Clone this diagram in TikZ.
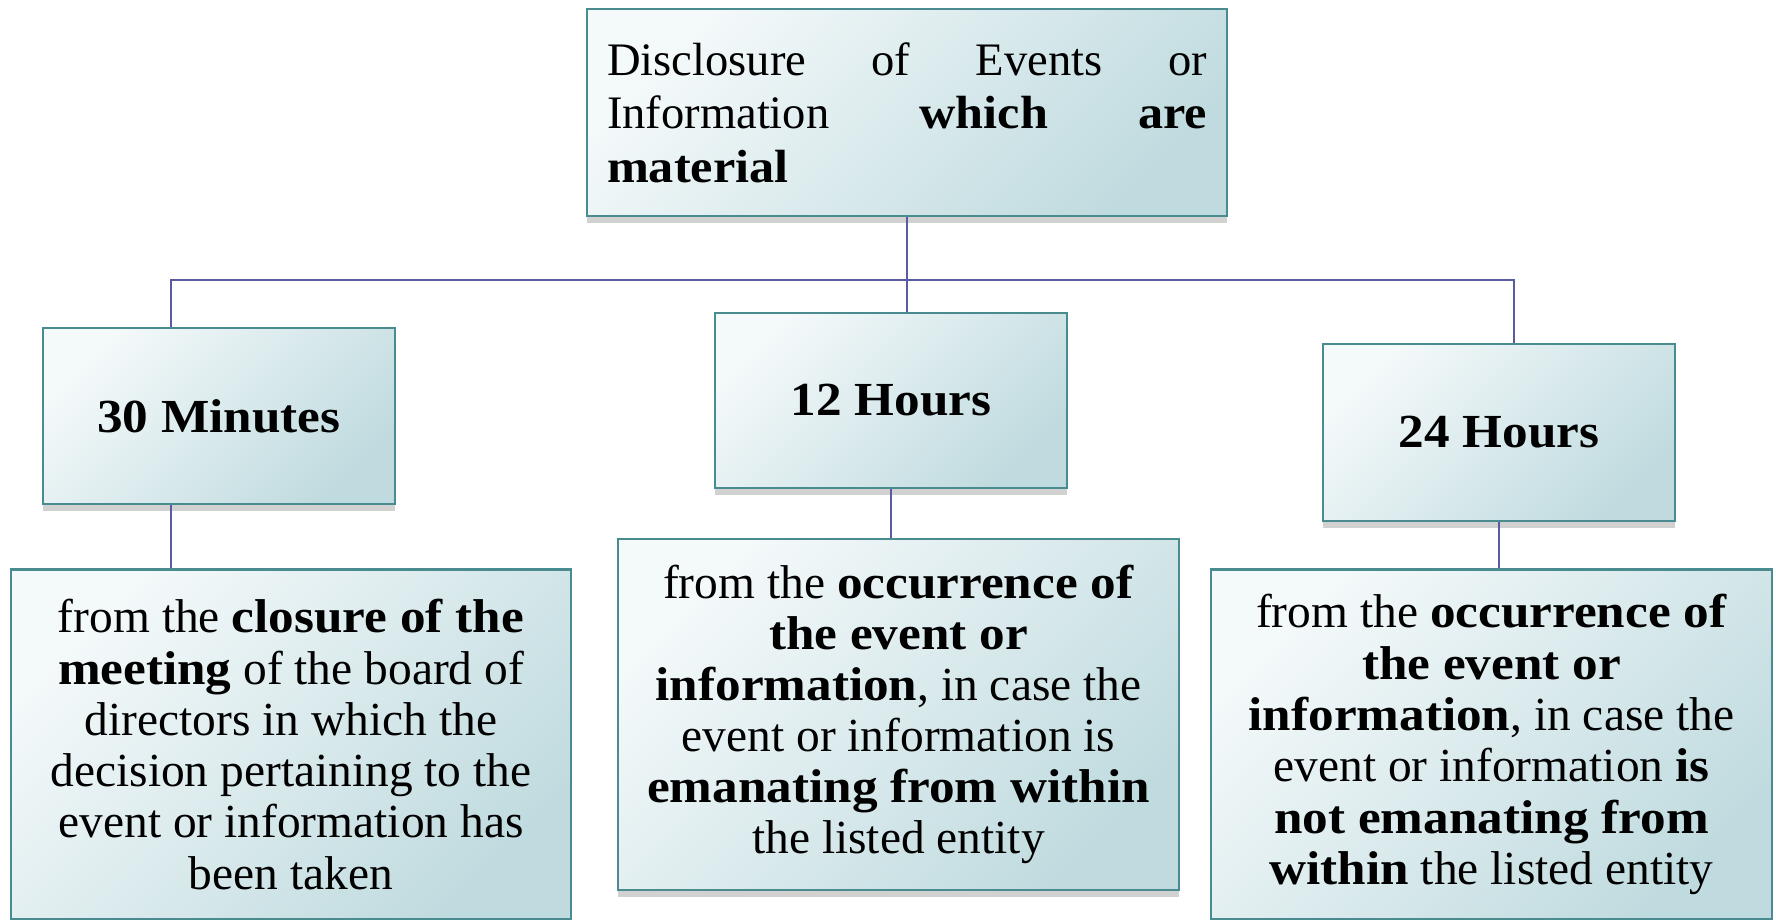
\documentclass[tikz,border=0pt]{standalone}
\usepackage{fontspec}
\setmainfont{Liberation Serif}[BoldFeatures={FakeStretch=1.08}]
\usetikzlibrary{shadows}

\definecolor{boxedge}{HTML}{4A8B8F}
\definecolor{boxlight}{HTML}{F4F9FA}
\definecolor{boxdark}{HTML}{C0DBDF}
\definecolor{linkcol}{HTML}{5A5CA2}

\begin{document}
\begin{tikzpicture}[x=0.02cm,y=-0.02cm]
	\tikzstyle{every node}+=[inner sep=0pt]
	\tikzstyle{tbox}=[draw=boxedge, line width=1.5pt, left color=boxlight, right color=boxdark,
		shading angle=45, drop shadow={shadow xshift=0pt, shadow yshift=-4pt, opacity=0.3, fill=black!60}]
	\tikzstyle{link}=[draw=linkcol, line width=1.1pt]
	\useasboundingbox (0,0) rectangle (1776,920);
	% header
	\node [tbox, minimum width=12.8cm, minimum height=4.14cm, text width=12cm, align=left,
		font=\fontsize{26.5}{30.5}\selectfont] (disc) at (907,112.5)
		{Disclosure\hfill of\hfill Events\hfill or\\
		 Information\hfill \textbf{which}\hfill \textbf{are}\\
		 \textbf{material}\\[4pt]};
	% time limits
	\node [tbox, minimum width=7.04cm, minimum height=3.52cm, font=\fontsize{27}{32}\selectfont\bfseries]
		(m30) at (219,416) {30 Minutes};
	\node [tbox, minimum width=7.04cm, minimum height=3.5cm, font=\fontsize{27}{32}\selectfont\bfseries]
		(h12) at (891,400.5) {12 Hours};
	\node [tbox, minimum width=7.04cm, minimum height=3.54cm, font=\fontsize{27}{32}\selectfont\bfseries]
		(h24) at (1499,432.5) {24 Hours};
	% details
	\node [tbox, minimum width=11.2cm, minimum height=7cm, align=center, font=\fontsize{27}{29.2}\selectfont]
		(d30) at (291,744.5)
		{from the \textbf{closure of the}\\
		 \textbf{meeting} of the board of\\
		 directors in which the\\
		 decision pertaining to the\\
		 event or information has\\
		 been taken};
	\node [tbox, minimum width=11.22cm, minimum height=7.02cm, align=center, font=\fontsize{27}{29}\selectfont]
		(d12) at (898.5,714.5)
		{from the \textbf{occurrence of}\\
		 \textbf{the event or}\\
		 \textbf{information}, in case the\\
		 event or information is\\
		 \textbf{emanating from within}\\
		 the listed entity};
	\node [tbox, minimum width=11.22cm, minimum height=7cm, align=center, font=\fontsize{27}{29.2}\selectfont]
		(d24) at (1491.5,744.5)
		{from the \textbf{occurrence of}\\
		 \textbf{the event or}\\
		 \textbf{information}, in case the\\
		 event or information \textbf{is}\\
		 \textbf{not emanating from}\\
		 \textbf{within} the listed entity};
	% connectors
	\coordinate (busL) at (171,280);
	\coordinate (busR) at (1514,280);
	\draw [link] (disc.south) -- (disc.south |- h12.north);
	\draw [link] (busL |- m30.north) -- (busL) -- (busR) -- (busR |- h24.north);
	\draw [link] (busL |- m30.south) -- (busL |- d30.north);
	\draw [link] (h12.south) -- (h12.south |- d12.north);
	\draw [link] (h24.south) -- (h24.south |- d24.north);
\end{tikzpicture}
\end{document}
